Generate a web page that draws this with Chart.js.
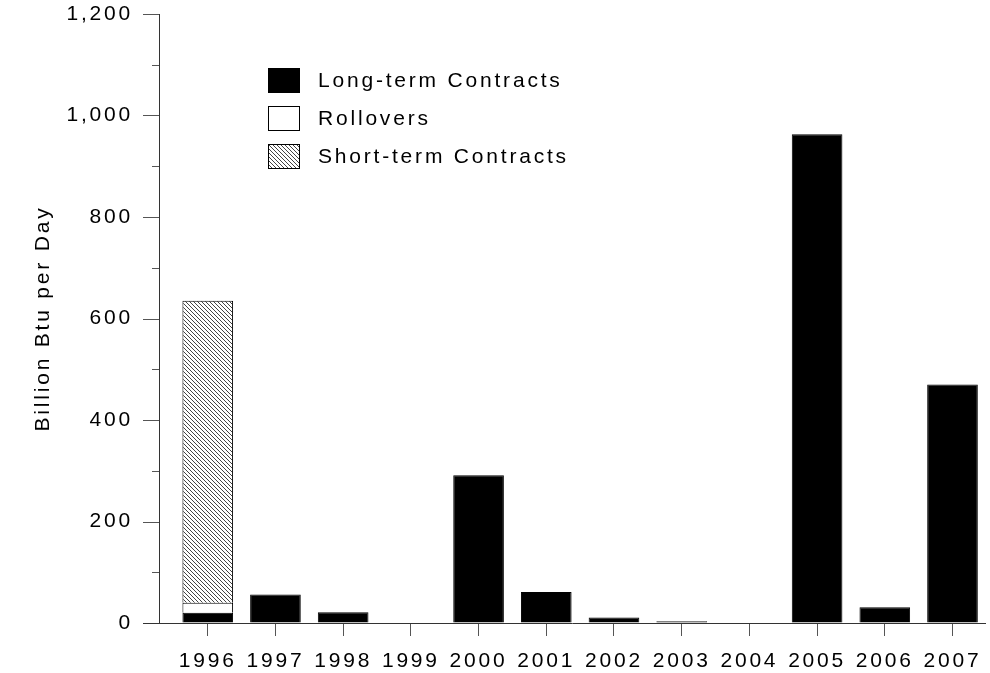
<!DOCTYPE html>
<html>
<head>
<meta charset="utf-8">
<title>Billion Btu per Day</title>
<script src="https://cdn.jsdelivr.net/npm/chart.js@4/dist/chart.umd.min.js"></script>
<style>
  html, body { margin: 0; padding: 0; background: #fff; }
  #wrap { width: 990px; height: 673px; position: relative; }
</style>
</head>
<body>
<div id="wrap"><canvas id="c"></canvas></div>
<script>
// Contract volumes by year (Billion Btu per Day)
const years = [1996, 1997, 1998, 1999, 2000, 2001, 2002, 2003, 2004, 2005, 2006, 2007];
const longTerm = [20, 56, 21, 0, 291, 61, 11, 3.5, 0, 963, 31, 470];
const rollovers = [20, null, null, null, null, null, null, null, null, null, null, null];
const shortTerm = [595, null, null, null, null, null, null, null, null, null, null, null];
const seriesNames = ['Long-term Contracts', 'Rollovers', 'Short-term Contracts'];
const yTicksMajor = [0, 200, 400, 600, 800, 1000, 1200];

const FONT = '"Liberation Sans", Arial, Helvetica, sans-serif';
const SPACING = '2.8px';

const canvas = document.getElementById('c');
const ctx0 = canvas.getContext('2d');

// diagonal hatch fill for the short-term series
function makeHatch(ctx) {
  const t = document.createElement('canvas');
  t.width = 4; t.height = 4;
  const g = t.getContext('2d');
  g.fillStyle = '#ffffff';
  g.fillRect(0, 0, 4, 4);
  g.fillStyle = '#444444';
  for (let i = 0; i < 4; i++) g.fillRect(i, i, 1, 1);
  return ctx.createPattern(t, 'repeat');
}
const hatch = makeHatch(ctx0);

// wide letter spacing used for every text item
const spacingPlugin = {
  id: 'spacing',
  beforeUpdate(chart) { chart.ctx.letterSpacing = SPACING; },
  beforeLayout(chart) { chart.ctx.letterSpacing = SPACING; },
  beforeDraw(chart) { chart.ctx.letterSpacing = SPACING; }
};

// major / minor tick marks on the value axis and the x-axis stub left of it
const axisMarks = {
  id: 'axisMarks',
  afterDraw(chart) {
    const ctx = chart.ctx;
    const y = chart.scales.y;
    const area = chart.chartArea;
    ctx.save();
    ctx.strokeStyle = '#555';
    ctx.lineWidth = 1;
    y.ticks.forEach(t => {
      const py = Math.round(y.getPixelForValue(t.value)) + 0.5;
      const len = yTicksMajor.includes(t.value) ? 16 : 7;
      ctx.beginPath();
      ctx.moveTo(area.left - len, py);
      ctx.lineTo(area.left, py);
      ctx.stroke();
    });
    const py0 = Math.round(y.getPixelForValue(0)) + 0.5;
    ctx.strokeStyle = '#333';
    ctx.beginPath();
    ctx.moveTo(area.left - 16, py0);
    ctx.lineTo(area.left, py0);
    ctx.stroke();
    ctx.restore();
  }
};

// legend block inside the plot
const boxLegend = {
  id: 'boxLegend',
  afterDraw(chart) {
    const ctx = chart.ctx;
    ctx.save();
    ctx.letterSpacing = SPACING;
    ctx.font = '21px ' + FONT;
    ctx.textBaseline = 'middle';
    ctx.textAlign = 'left';
    const x = 268, w = 32, h = 25;
    const tops = [68, 106, 144];
    chart.data.datasets.forEach((ds, i) => {
      const top = tops[i];
      ctx.fillStyle = ds.backgroundColor;
      ctx.fillRect(x, top, w, h);
      ctx.strokeStyle = '#000';
      ctx.lineWidth = 1;
      ctx.strokeRect(x + 0.5, top + 0.5, w - 1, h - 1);
      ctx.fillStyle = '#000';
      ctx.fillText(ds.label, 318, top + h / 2 + 1);
    });
    ctx.restore();
  }
};

new Chart(canvas, {
  type: 'bar',
  data: {
    labels: years,
    datasets: [
      { label: seriesNames[0], data: longTerm, backgroundColor: '#000000', borderColor: '#000', borderWidth: 1 },
      { label: seriesNames[1], data: rollovers, backgroundColor: '#ffffff', borderColor: '#000', borderWidth: 1 },
      { label: seriesNames[2], data: shortTerm, backgroundColor: hatch, borderColor: '#000', borderWidth: 1 }
    ]
  },
  options: {
    responsive: true,
    maintainAspectRatio: false,
    animation: false,
    devicePixelRatio: 1,
    datasets: { bar: { categoryPercentage: 0.8, barPercentage: 0.935 } },
    layout: { padding: { top: 14, right: 5, left: 0, bottom: 0 } },
    plugins: {
      legend: { display: false },
      tooltip: { enabled: false }
    },
    scales: {
      x: {
        type: 'linear',
        stacked: true,
        offset: false,
        min: 1995.28,
        max: 2007.48,
        afterBuildTicks(scale) { scale.ticks = years.map(v => ({ value: v })); },
        afterFit(scale) {
          scale.height = 50;
          scale.paddingLeft = 0;
          scale.paddingRight = 0;
        },
        grid: { offset: false, drawOnChartArea: false, drawTicks: true, tickLength: 13, color: '#555' },
        border: { display: true, color: '#333', width: 1 },
        ticks: {
          padding: 13,
          color: '#000',
          maxRotation: 0,
          autoSkip: false,
          font: { family: FONT, size: 21 },
          callback: v => String(v)
        }
      },
      y: {
        stacked: true,
        min: 0,
        max: 1200,
        afterFit(scale) { scale.width = 159; },
        grid: { drawOnChartArea: false, drawTicks: true, tickLength: 26, tickColor: 'rgba(0,0,0,0)' },
        border: { display: true, color: '#333', width: 1 },
        ticks: {
          stepSize: 100,
          padding: 0,
          color: '#000',
          font: { family: FONT, size: 21 },
          callback: v => (yTicksMajor.includes(v) ? v.toLocaleString('en-US') : '')
        },
        title: {
          display: true,
          text: 'Billion Btu per Day',
          color: '#000',
          font: { family: FONT, size: 21 },
          padding: { top: 31, bottom: 0 }
        }
      }
    }
  },
  plugins: [spacingPlugin, axisMarks, boxLegend]
});
</script>
</body>
</html>
